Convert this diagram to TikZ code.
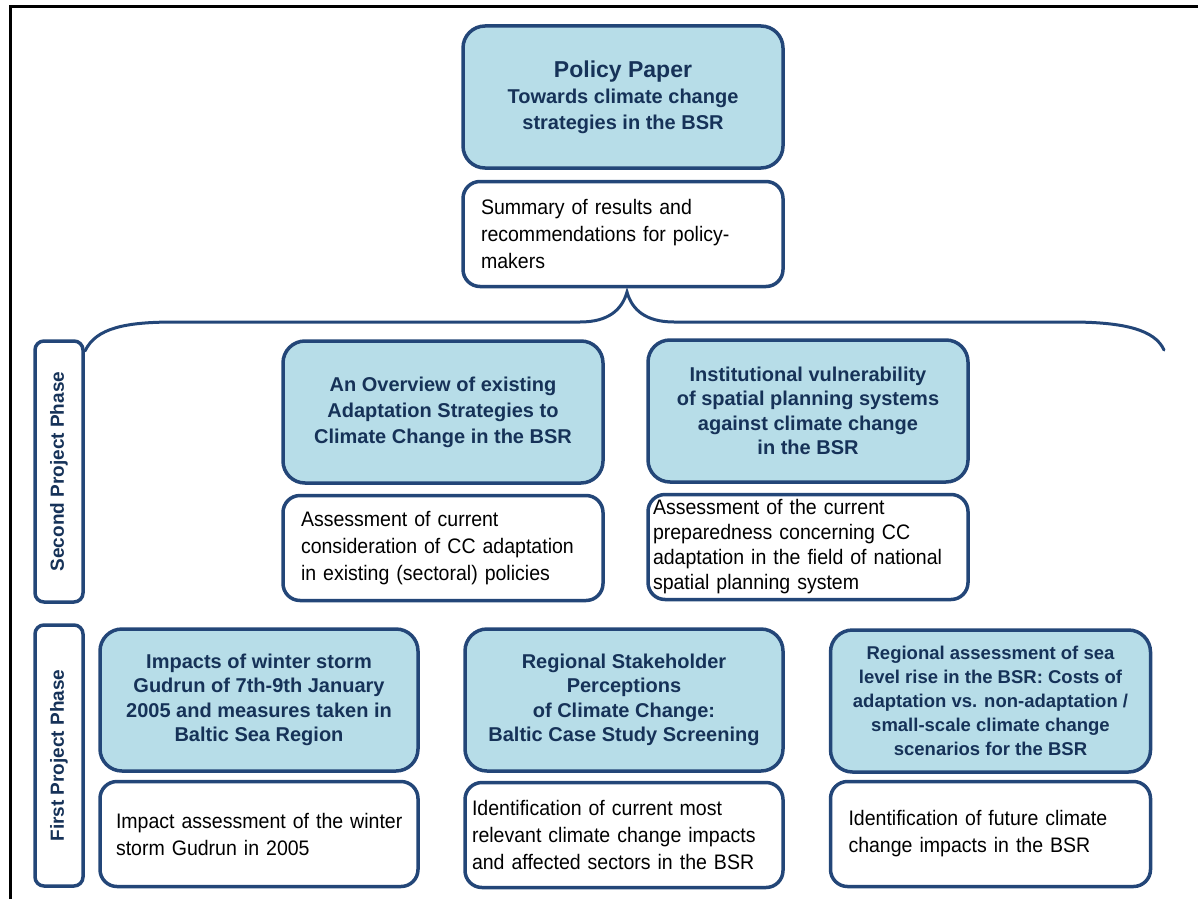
\documentclass[tikz,border=0pt]{standalone}
\usepackage{fontspec}
\setmainfont{Liberation Sans}
\newfontfamily\condfont[FakeStretch=0.93]{Liberation Sans}
\definecolor{bord}{RGB}{35,70,120}
\definecolor{fillb}{RGB}{183,221,232}
\definecolor{ttext}{RGB}{22,50,88}
\begin{document}
\begin{tikzpicture}[x=1pt,y=-1pt,
  bluebox/.style={draw=bord, line width=3.5pt, fill=fillb, rounded corners=22pt,
    minimum width=320pt, minimum height=142pt, align=center, inner sep=0pt,
    text=ttext, font=\bfseries\fontsize{20}{24.5}\selectfont},
  whitebox/.style={draw=bord, line width=3.5pt, fill=white, rounded corners=17pt,
    minimum height=105pt, inner xsep=18pt, inner ysep=0pt, text width=284pt, align=left,
    execute at begin node={\hyphenpenalty=10000\relax},
    font=\condfont\fontsize{21}{27}\selectfont},
  sidebox/.style={draw=bord, line width=3.5pt, fill=white, rounded corners=9pt,
    minimum width=261pt, minimum height=48pt, inner sep=0pt, rotate=90,
    text=ttext, font=\bfseries\fontsize{19}{21}\selectfont},
  brace/.style={draw=bord, line width=3pt, line cap=round},
  frame/.style={draw=black, line width=3pt}
]
\useasboundingbox (0,0) rectangle (1198,899);
% frame
\draw[frame] (10,899) -- (10,7) -- (1198,7);

% top
\node[bluebox, font=\bfseries\fontsize{20}{26}\selectfont] (pp) at (623,97) {{\fontsize{23}{28}\selectfont Policy Paper}\\Towards climate change\\strategies in the BSR};
\node[whitebox] (sum) at (623,234) {Summary of results and\\recommendations for policy-\\makers};

% brace
\coordinate (bl) at (85,351);
\coordinate (bt) at (627,292);
\coordinate (br) at (1164,350);
\draw[brace] (bl) .. controls (96,328) and (125,322) .. (175,322) -- (580,322)
  .. controls (608,322) and (622,310) .. (bt)
  .. controls (632,310) and (646,322) .. (674,322) -- (1070,322)
  .. controls (1125,322) and (1155,330) .. (br);

% side labels
\node[sidebox] (sp2) at (59,471.5) {Second Project Phase};
\node[sidebox] (fp1) at (59,755.5) {First Project Phase};

% second phase
\node[bluebox, font=\bfseries\fontsize{20}{26}\selectfont] (ov) at (443,412) {An Overview of existing\\Adaptation Strategies to\\Climate Change in the BSR};
\node[whitebox] (as1) at (443,548) {Assessment of current\\consideration of CC adaptation\\in existing (sectoral) policies};
\node[bluebox] (inst) at (808,411) {Institutional vulnerability\\of spatial planning systems\\against climate change\\in the BSR};
\node[whitebox, inner xsep=5pt, text width=310pt, font=\condfont\fontsize{21}{25}\selectfont] (as2) at (808,547) {Assessment of the current\\preparedness concerning CC\\adaptation in the field of national\\spatial planning system};

% first phase
\node[bluebox, minimum width=318pt] (imp) at (259,700) {Impacts of winter storm\\Gudrun of 7th-9th January\\2005 and measures taken in\\Baltic Sea Region};
\node[whitebox, inner xsep=16pt, text width=286pt] (ia) at (259,834) {\mbox{Impact assessment of the winter}\\storm Gudrun in 2005};
\node[bluebox, minimum width=318pt] (rs) at (624,700) {Regional Stakeholder\\Perceptions\\of Climate Change:\\Baltic Case Study Screening};
\node[whitebox, inner xsep=7pt, text width=304pt] (id1) at (624,835) {Identification of current most\\relevant climate change impacts\\and affected sectors in the BSR};
\node[bluebox, font=\bfseries\fontsize{18.5}{24}\selectfont] (ra) at (990.5,701) {Regional assessment of sea\\level rise in the BSR: Costs of\\adaptation vs. non-adaptation /\\small-scale climate change\\scenarios for the BSR};
\node[whitebox] (id2) at (990.5,834) {Identification of future climate\\change impacts in the BSR};
\end{tikzpicture}
\end{document}
